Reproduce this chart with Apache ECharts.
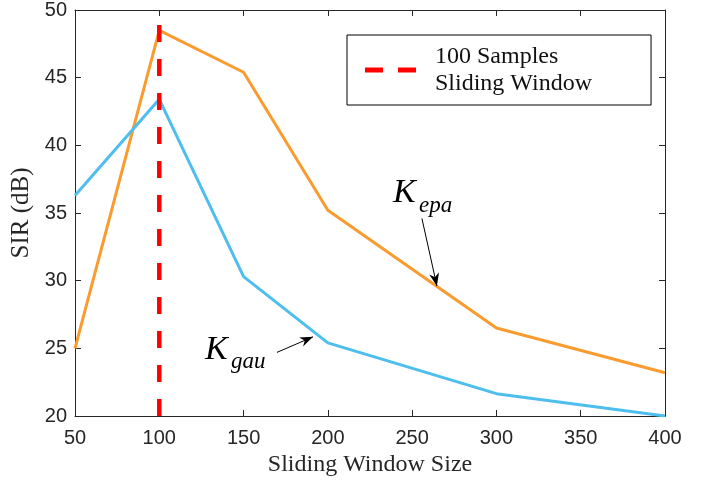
<!DOCTYPE html>
<html>
<head>
<meta charset="utf-8">
<script src="https://cdn.jsdelivr.net/npm/echarts@6/dist/echarts.min.js"></script>
<style>
  html, body { margin: 0; padding: 0; background: #fff; }
  #chart { width: 710px; height: 484px; }
</style>
</head>
<body>
<div id="chart"></div>
<script>
// data
var windowSizes = [50, 100, 150, 200, 300, 400];
var sirEpa = [25.0, 48.5, 45.4, 35.2, 26.5, 23.2];
var sirGau = [36.3, 43.4, 30.3, 25.4, 21.65, 20.0];
var markerSize = 100;
var markerSpan = [20, 50];
var markerName = '100 Samples\nSliding Window';

var axisColor = '#262626';
var serif = '"Liberation Serif", "Times New Roman", serif';
var sans = '"Liberation Sans", Arial, Helvetica, sans-serif';

function pairs(xs, ys) {
    return xs.map(function (x, i) { return [x, ys[i]]; });
}

var chart = echarts.init(document.getElementById('chart'), null, { renderer: 'canvas' });

var valueAxisBase = {
    type: 'value',
    axisLine: { show: true, onZero: false, lineStyle: { color: axisColor, width: 1 } },
    axisTick: { show: true, inside: true, length: 6, lineStyle: { color: axisColor } },
    splitLine: { show: false },
    axisLabel: { color: axisColor, fontFamily: sans, fontSize: 20 }
};

function axis(extra) {
    return echarts.util.merge(echarts.util.clone(valueAxisBase), extra, true);
}

var option = {
    animation: false,
    backgroundColor: '#fff',
    grid: { left: 75, right: 45, top: 10, bottom: 68 },
    xAxis: [
        axis({
            min: 50, max: 400, interval: 50,
            axisLabel: { margin: 12 },
            name: 'Sliding Window Size', nameLocation: 'middle', nameGap: 33,
            nameTextStyle: { fontFamily: serif, fontSize: 24, color: axisColor }
        }),
        axis({
            position: 'top', min: 50, max: 400, interval: 50,
            axisLabel: { show: false }
        })
    ],
    yAxis: [
        axis({
            min: 20, max: 50, interval: 5,
            axisLabel: { margin: 8 },
            name: 'SIR (dB)', nameLocation: 'middle', nameGap: 38,
            nameTextStyle: { fontFamily: serif, fontSize: 25, color: axisColor }
        }),
        axis({
            position: 'right', min: 20, max: 50, interval: 5,
            axisLabel: { show: false }
        })
    ],
    legend: {
        data: [{
            name: markerName,
            // two dashes, like the dashed line sample
            icon: 'path://M0,0H18V5H0Z M33,0H51V5H33Z'
        }],
        left: 347, top: 35,
        orient: 'vertical',
        itemWidth: 51, itemHeight: 5,
        padding: [8, 59, 8, 18],
        borderColor: '#000', borderWidth: 1,
        backgroundColor: '#fff',
        itemStyle: { color: '#FF0000', borderWidth: 0 },
        textStyle: {
            fontFamily: serif, fontSize: 24, lineHeight: 27, color: '#111',
            padding: [0, 0, 0, 14]
        }
    },
    series: [
        {
            name: 'Kepa', type: 'line', symbol: 'none',
            data: pairs(windowSizes, sirEpa),
            lineStyle: { color: '#F99B2F', width: 3 },
            itemStyle: { color: '#F99B2F' },
            z: 3
        },
        {
            name: 'Kgau', type: 'line', symbol: 'none',
            data: pairs(windowSizes, sirGau),
            lineStyle: { color: '#4DBEEE', width: 3 },
            itemStyle: { color: '#4DBEEE' },
            z: 3
        },
        {
            name: markerName, type: 'line', symbol: 'none',
            data: [[markerSize, markerSpan[0]], [markerSize, markerSpan[1]]],
            lineStyle: { color: '#FF0000', width: 4.5, type: [17, 17] },
            itemStyle: { color: '#FF0000' },
            z: 4
        }
    ]
};

chart.setOption(option);

// text annotations with arrows, anchored in data coordinates
var notes = [
    { main: 'K', sub: 'epa', at: [238.6, 35.2], from: [255.8, 34.6], to: [264.7, 29.6] },
    { main: 'K', sub: 'gau', at: [127.1, 23.65], from: [169.8, 24.7], to: [191.2, 25.85] }
];

function arrowHead(tip, tail) {
    var dx = tip[0] - tail[0], dy = tip[1] - tail[1];
    var len = Math.sqrt(dx * dx + dy * dy);
    var ux = dx / len, uy = dy / len;
    var px = -uy, py = ux;
    var L = 13, W = 5, N = 9;
    return [
        tip,
        [tip[0] - ux * L + px * W, tip[1] - uy * L + py * W],
        [tip[0] - ux * N, tip[1] - uy * N],
        [tip[0] - ux * L - px * W, tip[1] - uy * L - py * W]
    ];
}

var graphics = [];
notes.forEach(function (n) {
    var p = chart.convertToPixel({ gridIndex: 0 }, n.at);
    var a = chart.convertToPixel({ gridIndex: 0 }, n.from);
    var b = chart.convertToPixel({ gridIndex: 0 }, n.to);
    graphics.push({
        type: 'text', x: p[0], y: p[1], z: 10,
        style: {
            text: n.main, fill: '#000', fontFamily: serif, fontStyle: 'italic',
            fontSize: 34, verticalAlign: 'bottom', align: 'left'
        }
    });
    graphics.push({
        type: 'text', x: p[0] + 26, y: p[1] + 7, z: 10,
        style: {
            text: n.sub, fill: '#000', fontFamily: serif, fontStyle: 'italic',
            fontSize: 23, verticalAlign: 'bottom', align: 'left'
        }
    });
    graphics.push({
        type: 'line', z: 10,
        shape: { x1: a[0], y1: a[1], x2: b[0], y2: b[1] },
        style: { stroke: '#000', lineWidth: 1 }
    });
    graphics.push({
        type: 'polygon', z: 10,
        shape: { points: arrowHead(b, a) },
        style: { fill: '#000' }
    });
});

chart.setOption({ graphic: graphics });
</script>
</body>
</html>
